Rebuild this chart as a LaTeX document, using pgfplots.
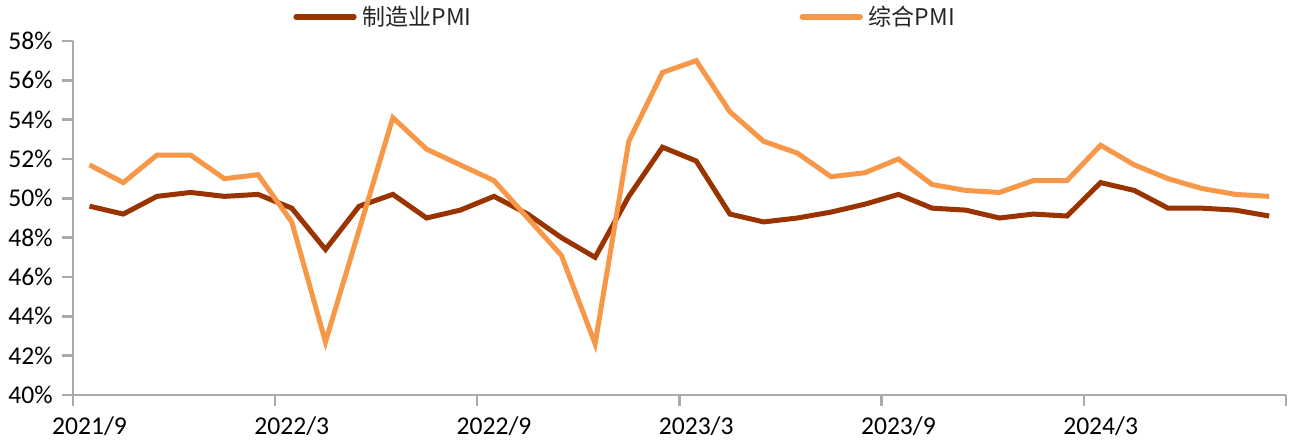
\documentclass[border=0pt]{standalone}
\usepackage{pgfplots}
\pgfplotsset{compat=1.18}
\usepackage{pgfplotstable}
\usepackage{fontspec}
\setmainfont{Carlito}
\newfontfamily\cjk{Noto Sans CJK SC}
\definecolor{mfg}{RGB}{153,51,0}
\definecolor{comp}{RGB}{247,152,72}
\definecolor{axgray}{RGB}{170,170,170}
\pgfplotstableread{
x m c
0 49.6 51.7
1 49.2 50.8
2 50.1 52.2
3 50.3 52.2
4 50.1 51.0
5 50.2 51.2
6 49.5 48.8
7 47.4 42.7
8 49.6 48.4
9 50.2 54.1
10 49.0 52.5
11 49.4 51.7
12 50.1 50.9
13 49.2 49.0
14 48.0 47.1
15 47.0 42.6
16 50.1 52.9
17 52.6 56.4
18 51.9 57.0
19 49.2 54.4
20 48.8 52.9
21 49.0 52.3
22 49.3 51.1
23 49.7 51.3
24 50.2 52.0
25 49.5 50.7
26 49.4 50.4
27 49.0 50.3
28 49.2 50.9
29 49.1 50.9
30 50.8 52.7
31 50.4 51.7
32 49.5 51.0
33 49.5 50.5
34 49.4 50.2
35 49.1 50.1
}\pmidata
\begin{document}
\begin{tikzpicture}[x=1pt,y=1pt]
\useasboundingbox (0,0) rectangle (646.5,222);
\begin{axis}[
  at={(36.35pt,24.5pt)}, anchor=south west,
  scale only axis, width=606.65pt, height=177pt,
  xmin=-0.5, xmax=35.5, ymin=40, ymax=58,
  axis x line*=bottom, axis y line*=left,
  axis line style={draw=axgray, line width=1.2pt},
  tick style={draw=axgray, line width=1.2pt},
  tick align=outside,
  major tick length=5.5pt, minor tick length=5.5pt,
  xtick={0,6,12,18,24,30},
  xticklabels={2021/9,2022/3,2022/9,2023/3,2023/9,2024/3},
  major x tick style={draw=none},
  minor xtick={-0.5,5.5,11.5,17.5,23.5,29.5,35.5},
  ytick={40,42,...,58},
  yticklabel={\pgfmathprintnumber{\tick}\%},
  /pgf/number format/assume math mode=true,
  ticklabel style={font=\fontsize{12.8}{14}\selectfont, text=black},
  xticklabel style={yshift=-2pt},
  yticklabel style={xshift=-1pt},
  legend columns=2,
  legend style={at={(axis description cs:0.1816,1.068)}, anchor=west,
    draw=none, fill=none, inner sep=0pt,
    font=\cjk\fontsize{11.5}{13}\selectfont, text=black!85,
    /tikz/column 2/.style={column sep=161pt},
    nodes={inner xsep=3pt, inner ysep=0pt}},
  legend image code/.code={\draw[#1, line width=2.6pt, line cap=round] (0pt,0pt) -- (29pt,0pt);},
]
\addplot[mfg, line width=2.5pt] table[x=x, y=m] {\pmidata};
\addlegendentry{制造业PMI}
\addplot[comp, line width=2.5pt] table[x=x, y=c] {\pmidata};
\addlegendentry{综合PMI}
\end{axis}
\end{tikzpicture}
\end{document}
